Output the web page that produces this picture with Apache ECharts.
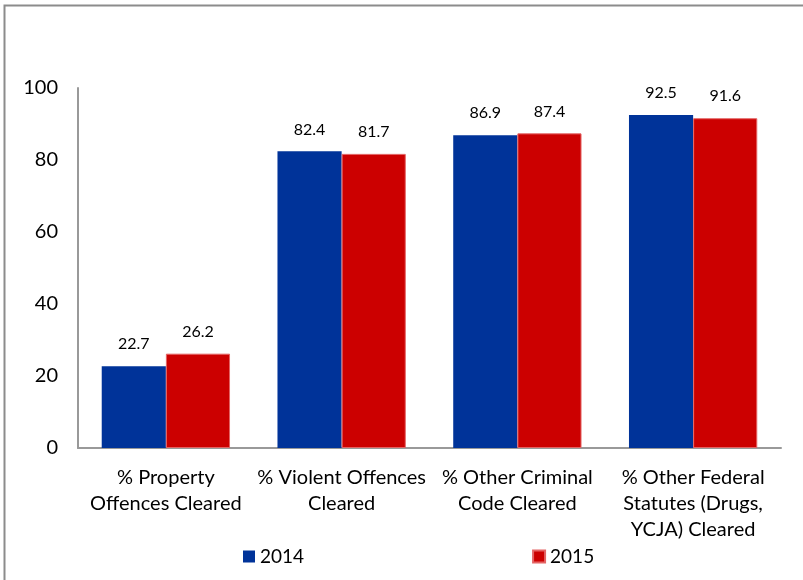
<!DOCTYPE html>
<html>
<head>
<meta charset="utf-8">
<script src="https://cdn.jsdelivr.net/npm/echarts@6/dist/echarts.min.js"></script>
<style>
  html, body { margin: 0; padding: 0; background: #fff; }
  #chart { width: 803px; height: 580px; }
</style>
</head>
<body>
<div id="chart"></div>
<script>
let categories = [
  '% Property\nOffences Cleared',
  '% Violent Offences\nCleared',
  '% Other Criminal\nCode Cleared',
  '% Other Federal\nStatutes (Drugs,\nYCJA) Cleared'
];
let values2014 = [22.7, 82.4, 86.9, 92.5];
let values2015 = [26.2, 81.7, 87.4, 91.6];
let yTicks = [0, 20, 40, 60, 80, 100];

let fontFam = 'Lato, "Open Sans", sans-serif';
let myChart = echarts.init(document.getElementById('chart'));

let option = {
  animation: false,
  graphic: [{
    type: 'rect',
    shape: { x: 4.5, y: 5.5, width: 900, height: 700 },
    style: { fill: 'none', stroke: '#8c8c8c', lineWidth: 2 }
  }],
  grid: { left: 78, right: 22, top: 88, bottom: 132 },
  legend: {
    left: 238,
    top: 542,
    itemWidth: 12,
    itemHeight: 12,
    itemGap: 228,
    icon: 'rect',
    textStyle: { fontFamily: fontFam, fontSize: 19, color: '#000' },
    data: ['2014', '2015']
  },
  xAxis: {
    type: 'category',
    data: categories,
    axisLine: { lineStyle: { color: '#999', width: 2 } },
    axisTick: { show: false },
    axisLabel: {
      interval: 0,
      margin: 17,
      lineHeight: 26,
      color: '#000',
      fontFamily: fontFam,
      fontSize: 20
    }
  },
  yAxis: {
    type: 'value',
    min: yTicks[0],
    max: yTicks[yTicks.length - 1],
    interval: 20,
    axisLine: { show: true, lineStyle: { color: '#999', width: 2 } },
    axisTick: { show: false },
    splitLine: { show: false },
    axisLabel: { margin: 20, color: '#000', fontFamily: fontFam, fontSize: 20 }
  },
  series: [
    {
      name: '2014',
      type: 'bar',
      data: values2014,
      barGap: '0%',
      barCategoryGap: '27%',
      itemStyle: { color: '#003399' },
      label: {
        show: true,
        position: 'top',
        distance: 14,
        color: '#000',
        fontFamily: fontFam,
        fontSize: 16,
        formatter: p => p.value.toFixed(1)
      }
    },
    {
      name: '2015',
      type: 'bar',
      data: values2015,
      itemStyle: { color: '#cc0000', borderColor: '#e46464', borderWidth: 1 },
      label: {
        show: true,
        position: 'top',
        distance: 14,
        color: '#000',
        fontFamily: fontFam,
        fontSize: 16,
        formatter: p => p.value.toFixed(1)
      }
    }
  ]
};

myChart.setOption(option);
</script>
</body>
</html>
